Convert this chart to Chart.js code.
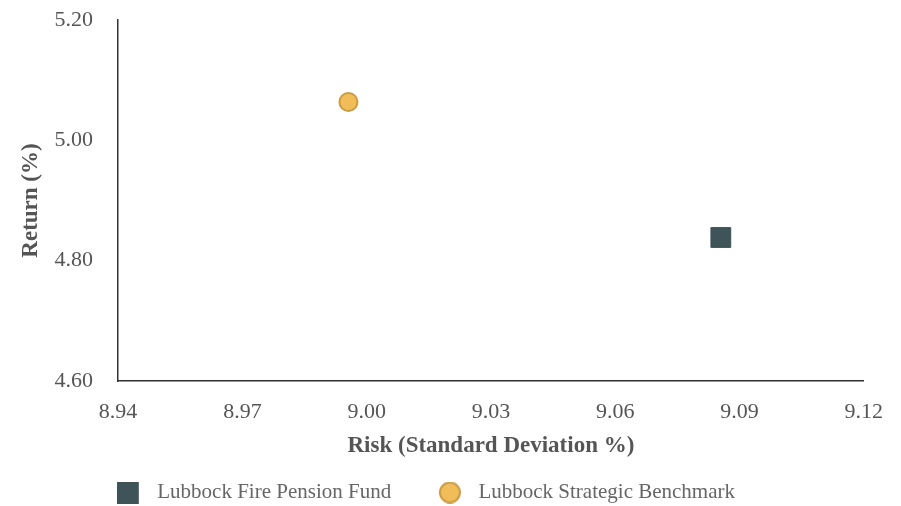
<!DOCTYPE html>
<html>
<head>
<meta charset="utf-8">
<script src="https://cdn.jsdelivr.net/npm/chart.js@4/dist/chart.umd.min.js"></script>
<style>
  html, body { margin: 0; padding: 0; background: #ffffff; }
  #wrap { width: 901px; height: 506px; }
</style>
</head>
<body>
<div id="wrap"><canvas id="c" width="901" height="506"></canvas></div>
<script>
const seriesNames = ["Lubbock Fire Pension Fund", "Lubbock Strategic Benchmark"];
const riskValues = [9.0855, 8.9956];
const returnValues = [4.8385, 5.0637];
const xTickValues = [8.94, 8.97, 9.00, 9.03, 9.06, 9.09, 9.12];
const yTickValues = [4.60, 4.80, 5.00, 5.20];

const serif = "'Liberation Serif', 'Times New Roman', serif";
const squareColor = '#3e5458';
const circleFill = '#f1bd58';
const circleEdge = '#c99c45';

function squareIcon() {
  const c = document.createElement('canvas');
  c.width = 30; c.height = 22;
  const g = c.getContext('2d');
  g.fillStyle = squareColor;
  g.fillRect(0, 0, 22, 22);
  return c;
}
function circleIcon() {
  const c = document.createElement('canvas');
  c.width = 30; c.height = 22;
  const g = c.getContext('2d');
  g.beginPath();
  g.arc(12, 11, 10, 0, Math.PI * 2);
  g.fillStyle = circleFill;
  g.fill();
  g.lineWidth = 2;
  g.strokeStyle = circleEdge;
  g.stroke();
  return c;
}
const legendIcons = [squareIcon(), circleIcon()];
const legendTrail = ['       ', '     '];

new Chart(document.getElementById('c'), {
  type: 'scatter',
  data: {
    datasets: [
      {
        label: seriesNames[0],
        data: [{ x: riskValues[0], y: returnValues[0] }],
        pointStyle: 'rect',
        pointRadius: 14,
        pointHoverRadius: 14,
        backgroundColor: squareColor,
        borderColor: squareColor,
        borderWidth: 1
      },
      {
        label: seriesNames[1],
        data: [{ x: riskValues[1], y: returnValues[1] }],
        pointStyle: 'circle',
        pointRadius: 9,
        pointHoverRadius: 9,
        backgroundColor: circleFill,
        borderColor: circleEdge,
        borderWidth: 2
      }
    ]
  },
  options: {
    responsive: false,
    animation: false,
    layout: { padding: { top: 0, right: 23, left: 0, bottom: -7 } },
    plugins: {
      tooltip: { enabled: false },
      legend: {
        position: 'bottom',
        labels: {
          usePointStyle: true,
          pointStyleWidth: 30,
          boxWidth: 30,
          boxHeight: 21,
          padding: 10,
          color: '#666666',
          font: { family: serif, size: 21 },
          generateLabels: (chart) => chart.data.datasets.map((ds, i) => ({
            text: ds.label + legendTrail[i],
            pointStyle: legendIcons[i],
            fillStyle: ds.backgroundColor,
            strokeStyle: ds.borderColor,
            lineWidth: 0,
            hidden: false,
            datasetIndex: i,
            fontColor: '#666666'
          }))
        }
      }
    },
    scales: {
      x: {
        type: 'linear',
        min: 8.94,
        max: 9.12,
        afterBuildTicks: (s) => { s.ticks = xTickValues.map(v => ({ value: v })); },
        grid: { display: false, drawTicks: false },
        border: { display: true, color: '#333333', width: 1.5 },
        ticks: {
          padding: 18,
          color: '#555555',
          font: { family: serif, size: 22 },
          callback: (v) => Number(v).toFixed(2)
        },
        title: {
          display: true,
          text: 'Risk (Standard Deviation %)',
          color: '#555555',
          font: { family: serif, size: 23, weight: 'bold' },
          padding: { top: -11, bottom: 12 }
        }
      },
      y: {
        type: 'linear',
        min: 4.60,
        max: 5.20,
        afterBuildTicks: (s) => { s.ticks = yTickValues.map(v => ({ value: v })); },
        afterFit: (s) => { s.paddingTop = 20; },
        grid: { display: false, drawTicks: false },
        border: { display: true, color: '#333333', width: 1.5 },
        ticks: {
          padding: 25,
          color: '#555555',
          font: { family: serif, size: 22 },
          callback: (v) => Number(v).toFixed(2)
        },
        title: {
          display: true,
          text: 'Return (%)',
          color: '#555555',
          font: { family: serif, size: 23, weight: 'bold' },
          padding: { top: 17, bottom: -15 }
        }
      }
    }
  }
});
</script>
</body>
</html>
